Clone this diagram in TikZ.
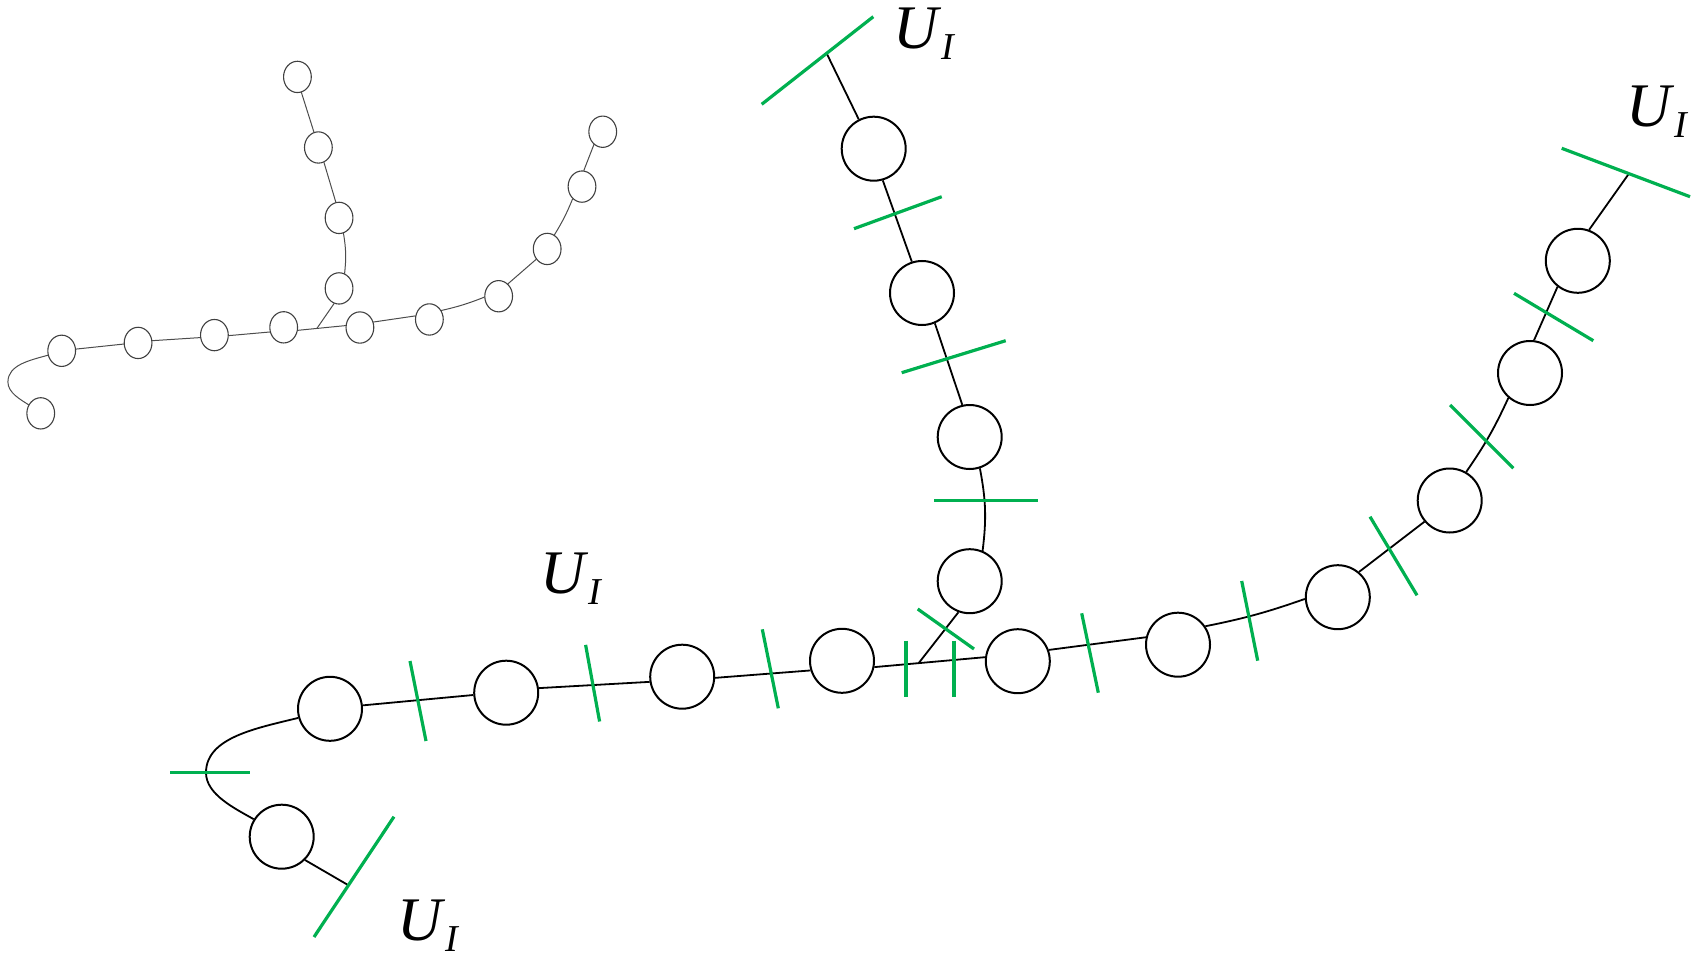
\documentclass[tikz,border=0pt]{standalone}
\usepackage{fontspec}
\setmainfont{Liberation Serif}
\definecolor{tickgreen}{RGB}{0,176,80}
\newcommand\chaingraph[1]{%
  \node[gnode] (#1a1) at (281.7,-836.7) {};
  \node[gnode] (#1a2) at (330,-708.8) {};
  \node[gnode] (#1a3) at (506.2,-692.7) {};
  \node[gnode] (#1a4) at (682.2,-676.7) {};
  \node[gnode] (#1a5) at (842,-660.8) {};
  \node[gnode] (#1a6) at (1017.8,-661.2) {};
  \node[gnode] (#1a7) at (1178,-644.7) {};
  \node[gnode] (#1a8) at (1337.8,-597.2) {};
  \node[gnode] (#1a9) at (1449.7,-500.5) {};
  \node[gnode] (#1a10) at (1530,-373) {};
  \node[gnode] (#1a11) at (1577.8,-260.8) {};
  \node[gnode] (#1b1) at (969.7,-581.2) {};
  \node[gnode] (#1b2) at (969.7,-437) {};
  \node[gnode] (#1b3) at (922,-293) {};
  \node[gnode] (#1b4) at (873.7,-148.7) {};
  \coordinate (#1m) at (206,-772.7);
  \draw[glink] (#1a1.148) .. controls (235.5,-808.7) and (206,-794.7) .. (#1m)
     .. controls (206,-737.7) and (255.5,-728.4) .. (#1a2.196);
  \draw[glink] (#1a2.6) -- (#1a3.184);
  \draw[glink] (#1a3.8) -- (#1a4.189);
  \draw[glink] (#1a4.358) -- (#1a5.197);
  \draw[glink] (#1a5.349) -- (#1a6.173);
  \draw[glink] (#1a6.20) -- (#1a7.167);
  \draw[glink] (#1a7.34) to[bend right=4] (#1a8.183);
  \draw[glink] (#1a8.50) -- (#1a9.220);
  \draw[glink] (#1a9.60) to[bend right=5] (#1a10.229);
  \draw[glink] (#1a10.83) -- (#1a11.232);
  \draw[glink] (#1b1.67) to[bend right=9] (#1b2.288);
  \draw[glink] (#1b2.103) -- (#1b3.293);
  \draw[glink] (#1b3.108) -- (#1b4.286);
  \path (#1a5.349) -- (#1a6.173) coordinate[pos=0.4] (#1j);
  \draw[glink] (#1b1.250) -- (#1j);
}
\newcommand\uilabel{{\fontsize{31}{31}\selectfont\itshape U}\kern1.5pt\raisebox{-5.5pt}{\fontsize{19}{19}\selectfont\itshape I}}
\begin{document}
\begin{tikzpicture}[x=0.5pt,y=0.5pt,
  tick/.style={draw=tickgreen,line width=1.6pt},
  lbl/.style={anchor=base west,inner sep=0pt}]
\useasboundingbox (0,0) rectangle (1691,-957);
% small overview graph
\begin{scope}[shift={(-81.4,-4.2)},xscale=0.4336,yscale=0.489,transform shape,
  gnode/.style={circle,draw=black!75,line width=0.55pt,minimum size=32pt,inner sep=0pt},
  glink/.style={draw=black!70,line width=0.5pt}]
  \chaingraph{s}
\end{scope}
% large graph
\begin{scope}[
  gnode/.style={circle,draw=black,line width=1pt,minimum size=32pt,inner sep=0pt},
  glink/.style={draw=black,line width=0.9pt}]
  \chaingraph{}
\end{scope}
\coordinate (e1) at (348,-885);
\coordinate (e2) at (826.7,-53.5);
\coordinate (e3) at (1629,-173.5);
\draw[line width=0.9pt] (a1.315) -- (e1);
\draw[line width=0.9pt] (b4.117) -- (e2);
\draw[line width=0.9pt] (a11.70) -- (e3);
% green cuts
\draw[tick] (761.7,-104.3) -- (873.3,-16.7);
\draw[tick] (854,-228.7) -- (941.7,-196.7);
\draw[tick] (901.7,-372.7) -- (1005.7,-340.7);
\draw[tick] (934,-500.7) -- (1037.7,-500.7);
\draw[tick] (917.7,-609) -- (974,-649);
\draw[tick] (906,-640.7) -- (906,-696.7);
\draw[tick] (954,-640.7) -- (954,-696.7);
\draw[tick] (1081.7,-613.3) -- (1098.3,-692.7);
\draw[tick] (1241.7,-581) -- (1257.7,-660.7);
\draw[tick] (1370,-516.7) -- (1417,-595.3);
\draw[tick] (1450,-405) -- (1513.3,-468.3);
\draw[tick] (1514,-293.3) -- (1593.3,-340.7);
\draw[tick] (1561.7,-148.3) -- (1690,-196.7);
\draw[tick] (762.3,-629.3) -- (778.3,-708.3);
\draw[tick] (585.6,-644.9) -- (599.6,-721.5);
\draw[tick] (410,-661) -- (426,-741);
\draw[tick] (170,-772.7) -- (250,-772.7);
\draw[tick] (314,-937) -- (394,-816.7);
% labels
\node[lbl] (l1) at (540,-593) {\uilabel};
\node[lbl] (l2) at (397,-940) {\uilabel};
\node[lbl] (l3) at (893,-49) {\uilabel};
\node[lbl] (l4) at (1626,-126.7) {\uilabel};
\end{tikzpicture}
\end{document}
